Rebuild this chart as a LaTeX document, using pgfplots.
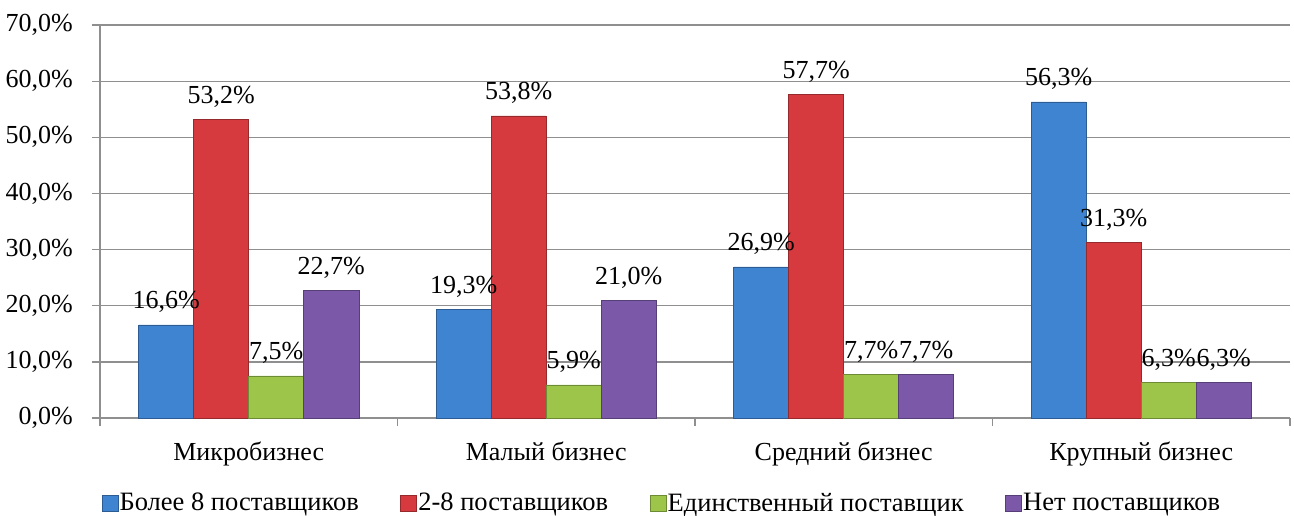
\documentclass[border=0pt]{standalone}
\usepackage{fontspec}
\setmainfont{Liberation Serif}
\newfontfamily\tnr{Liberation Serif}
\usepackage{pgfplots}
\pgfplotsset{compat=1.18}
\definecolor{cblue}{HTML}{3F84D0}
\definecolor{cred}{HTML}{D63A3E}
\definecolor{cgreen}{HTML}{9CC54A}
\definecolor{cpurple}{HTML}{7B58A8}
\definecolor{gridgray}{HTML}{8F8F8F}
\newcommand{\ff}{\tnr\fontsize{26}{30}\selectfont}
\newcommand{\fl}{\tnr\fontsize{26.5}{30}\selectfont}
\begin{document}
\begin{tikzpicture}[font=\ff]
\begin{axis}[
  scale only axis, width=1190pt, height=393pt,
  xmin=-0.5, xmax=3.5, ymin=0, ymax=70,
  ybar=0pt, bar width=0.185,
  axis x line*=bottom, axis y line*=left,
  axis line style={draw=gridgray, line width=1.3pt},
  tick style={draw=gridgray, line width=1.3pt},
  tick align=outside, major tick length=8pt,
  ytick={0,10,...,70},
  ymajorgrids, grid style={draw=gridgray, line width=1.3pt},
  /pgf/number format/assume math mode=true,
  yticklabel={\pgfmathprintnumber[fixed,fixed zerofill,precision=1,use comma]{\tick}\%},
  yticklabel style={font=\ff, anchor=east, inner sep=0pt, xshift=-19pt},
  xtick={-0.5,0.5,1.5,2.5,3.5},
  x tick label as interval,
  xticklabels={Микробизнес, Малый бизнес, Средний бизнес, Крупный бизнес},
  xticklabel style={font=\ff, anchor=north, inner sep=0pt, yshift=-16pt},
  nodes near coords={\pgfmathprintnumber[fixed,fixed zerofill,precision=1,use comma]{\pgfplotspointmeta}\%},
  every node near coord/.append style={font=\ff, anchor=base, inner sep=0pt, yshift=16pt, text=black},
  legend image code/.code={\draw[#1, line width=0.5pt] (0pt,-8pt) rectangle (16pt,8pt);},
  legend style={font=\fl, at={(0.472,-0.216)}, anchor=center, draw=none, legend columns=4,
    nodes={inner sep=1.5pt},
    /tikz/every even column/.append style={column sep=40pt}},
]
\addplot[fill=cblue, draw=cblue!70!black, line width=0.6pt] coordinates {(0,16.6) (1,19.3) (2,26.9) (3,56.3)};
\addplot[fill=cred, draw=cred!70!black, line width=0.6pt] coordinates {(0,53.2) (1,53.8) (2,57.7) (3,31.3)};
\addplot[fill=cgreen, draw=cgreen!70!black, line width=0.6pt] coordinates {(0,7.5) (1,5.9) (2,7.7) (3,6.3)};
\addplot[fill=cpurple, draw=cpurple!70!black, line width=0.6pt] coordinates {(0,22.7) (1,21.0) (2,7.7) (3,6.3)};
\legend{Более 8 поставщиков, 2-8 поставщиков, Единственный поставщик, Нет поставщиков}
\end{axis}
\pgfresetboundingbox
\path (-100pt,-97pt) rectangle (1194pt,418pt);
\end{tikzpicture}
\end{document}
